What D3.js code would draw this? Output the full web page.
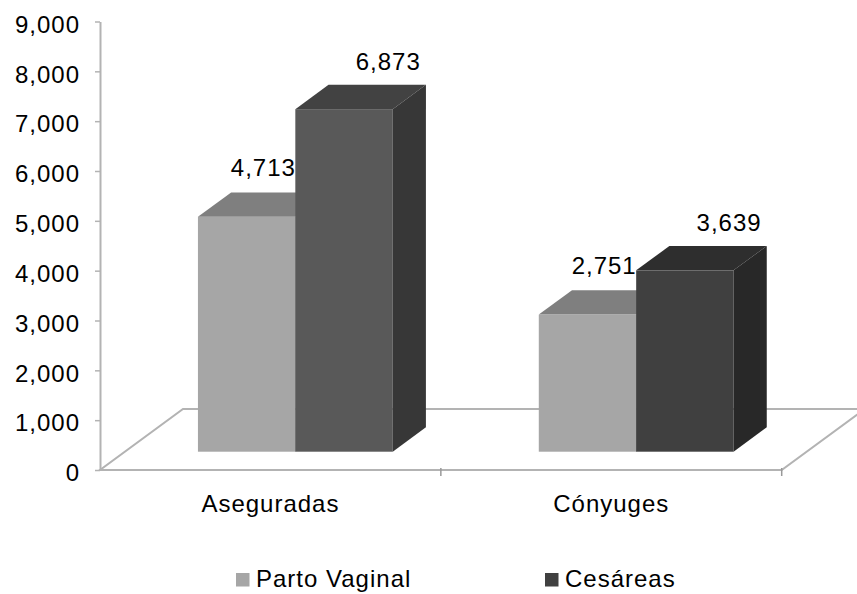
<!DOCTYPE html>
<html>
<head>
<meta charset="utf-8">
<script src="https://cdn.jsdelivr.net/npm/d3@7"></script>
<style>
  body { margin: 0; background: #fff; }
  text { font-family: "Liberation Sans", Arial, sans-serif; }
</style>
</head>
<body>
<svg id="chart" width="857" height="594"></svg>
<script>
const categories = ["Aseguradas", "Cónyuges"];
const seriesNames = ["Parto Vaginal", "Cesáreas"];
const partoVaginal = [4713, 2751];
const cesareas = [6873, 3639];
const yTicks = [0, 1000, 2000, 3000, 4000, 5000, 6000, 7000, 8000, 9000];

// face colours (front, top, side) per series, one entry per category
const vaginalFaces = [
    { front: "#a6a6a6", top: "#7f7f7f", side: "#8a8a8a" },
    { front: "#a6a6a6", top: "#7f7f7f", side: "#8a8a8a" }
];
const cesareasFaces = [
    { front: "#595959", top: "#424242", side: "#373737" },
    { front: "#404040", top: "#2e2e2e", side: "#282828" }
];
const legendColors = ["#a6a6a6", "#404040"];

const rows = categories.map((c, i) => ({
    category: c,
    values: [
        { series: seriesNames[0], value: partoVaginal[i], faces: vaginalFaces[i] },
        { series: seriesNames[1], value: cesareas[i], faces: cesareasFaces[i] }
    ]
}));

const svg = d3.select("#chart");
const fontSize = 24;

const y = d3.scaleLinear().domain([0, 9000]).range([470, 21.5]);
const x = d3.scaleBand().domain(categories).range([100, 781.7]);
const xInner = d3.scaleBand().domain(seriesNames).range([0, x.bandwidth()]).paddingOuter(0.75);

// floor depth vector and where the bars sit inside it
const depth = [83, -61];
const zFront = 0.3, zBack = 0.7;

const lineColor = "#b3b3b3";

// floor
const [fx0, fx1] = x.range();
const y0 = y(0);
svg.append("path")
    .attr("d", `M${fx0},${y0} L${fx1},${y0} L${fx1 + depth[0]},${y0 + depth[1]} L${fx0 + depth[0]},${y0 + depth[1]} Z`)
    .attr("fill", "none")
    .attr("stroke", lineColor)
    .attr("stroke-width", 2);

// category boundary ticks on the front edge
svg.append("g").selectAll("line")
    .data(d3.range(1, categories.length + 1))
    .join("line")
    .attr("x1", i => fx0 + i * x.step())
    .attr("x2", i => fx0 + i * x.step())
    .attr("y1", y0 - 2)
    .attr("y2", y0 + 6)
    .attr("stroke", "#999")
    .attr("stroke-width", 1.5);

// y axis
const yAxis = svg.append("g")
    .attr("transform", `translate(${fx0},0)`)
    .call(d3.axisLeft(y).tickValues(yTicks).tickFormat(d3.format(",")).tickSize(5).tickPadding(15).tickSizeOuter(0));
yAxis.select(".domain").attr("stroke", lineColor).attr("stroke-width", 2);
yAxis.selectAll(".tick line").attr("stroke", lineColor).attr("stroke-width", 1.5);
yAxis.selectAll("text")
    .attr("font-family", "Liberation Sans, Arial, sans-serif")
    .attr("font-size", fontSize)
    .attr("letter-spacing", 1)
    .attr("fill", "#000")
    .attr("dy", "0.45em");

// x axis labels
const xAxis = svg.append("g")
    .attr("transform", `translate(0,${y0})`)
    .call(d3.axisBottom(x).tickSize(0).tickPadding(25));
xAxis.select(".domain").remove();
xAxis.selectAll("text")
    .attr("font-family", "Liberation Sans, Arial, sans-serif")
    .attr("font-size", fontSize)
    .attr("letter-spacing", 1)
    .attr("fill", "#000");

// bars
const dxF = depth[0] * zFront, dyF = depth[1] * zFront;
const dxB = depth[0] * (zBack - zFront), dyB = depth[1] * (zBack - zFront);
const w = xInner.bandwidth();

const bars = svg.append("g").selectAll("g.group")
    .data(rows)
    .join("g")
    .attr("class", "group")
    .selectAll("g.bar")
    .data(r => r.values.map(v => ({ ...v, category: r.category })))
    .join("g")
    .attr("class", "bar");

function geom(d) {
    const left = x(d.category) + xInner(d.series) + dxF;
    const right = left + w;
    const top = y(d.value) + dyF;
    const bottom = y(0) + dyF;
    return { left, right, top, bottom };
}

bars.append("rect")
    .attr("x", d => geom(d).left)
    .attr("y", d => geom(d).top)
    .attr("width", w)
    .attr("height", d => geom(d).bottom - geom(d).top)
    .attr("fill", d => d.faces.front);

bars.append("path")
    .attr("d", d => {
        const g = geom(d);
        return `M${g.left},${g.top} L${g.right},${g.top} L${g.right + dxB},${g.top + dyB} L${g.left + dxB},${g.top + dyB} Z`;
    })
    .attr("fill", d => d.faces.top);

bars.append("path")
    .attr("d", d => {
        const g = geom(d);
        return `M${g.right},${g.top} L${g.right + dxB},${g.top + dyB} L${g.right + dxB},${g.bottom + dyB} L${g.right},${g.bottom} Z`;
    })
    .attr("fill", d => d.faces.side);

// value labels
const labelOffset = { "Parto Vaginal": [-16.5, -16], "Cesáreas": [11, -15] };
bars.append("text")
    .attr("x", d => geom(d).left + dxB + w / 2 + labelOffset[d.series][0])
    .attr("y", d => geom(d).top + dyB + labelOffset[d.series][1])
    .attr("text-anchor", "middle")
    .attr("font-size", fontSize)
    .attr("letter-spacing", 1)
    .attr("fill", "#000")
    .text(d => d3.format(",")(d.value));

// legend
const legend = svg.append("g").attr("transform", "translate(236,573)")
    .selectAll("g")
    .data(seriesNames)
    .join("g")
    .attr("transform", (d, i) => `translate(${i * 309},0)`);
legend.append("rect")
    .attr("width", 13.5)
    .attr("height", 13.5)
    .attr("fill", (d, i) => legendColors[i]);
legend.append("text")
    .attr("x", 20)
    .attr("y", 14)
    .attr("font-size", fontSize)
    .attr("letter-spacing", 1)
    .attr("fill", "#000")
    .text(d => d);
</script>
</body>
</html>
